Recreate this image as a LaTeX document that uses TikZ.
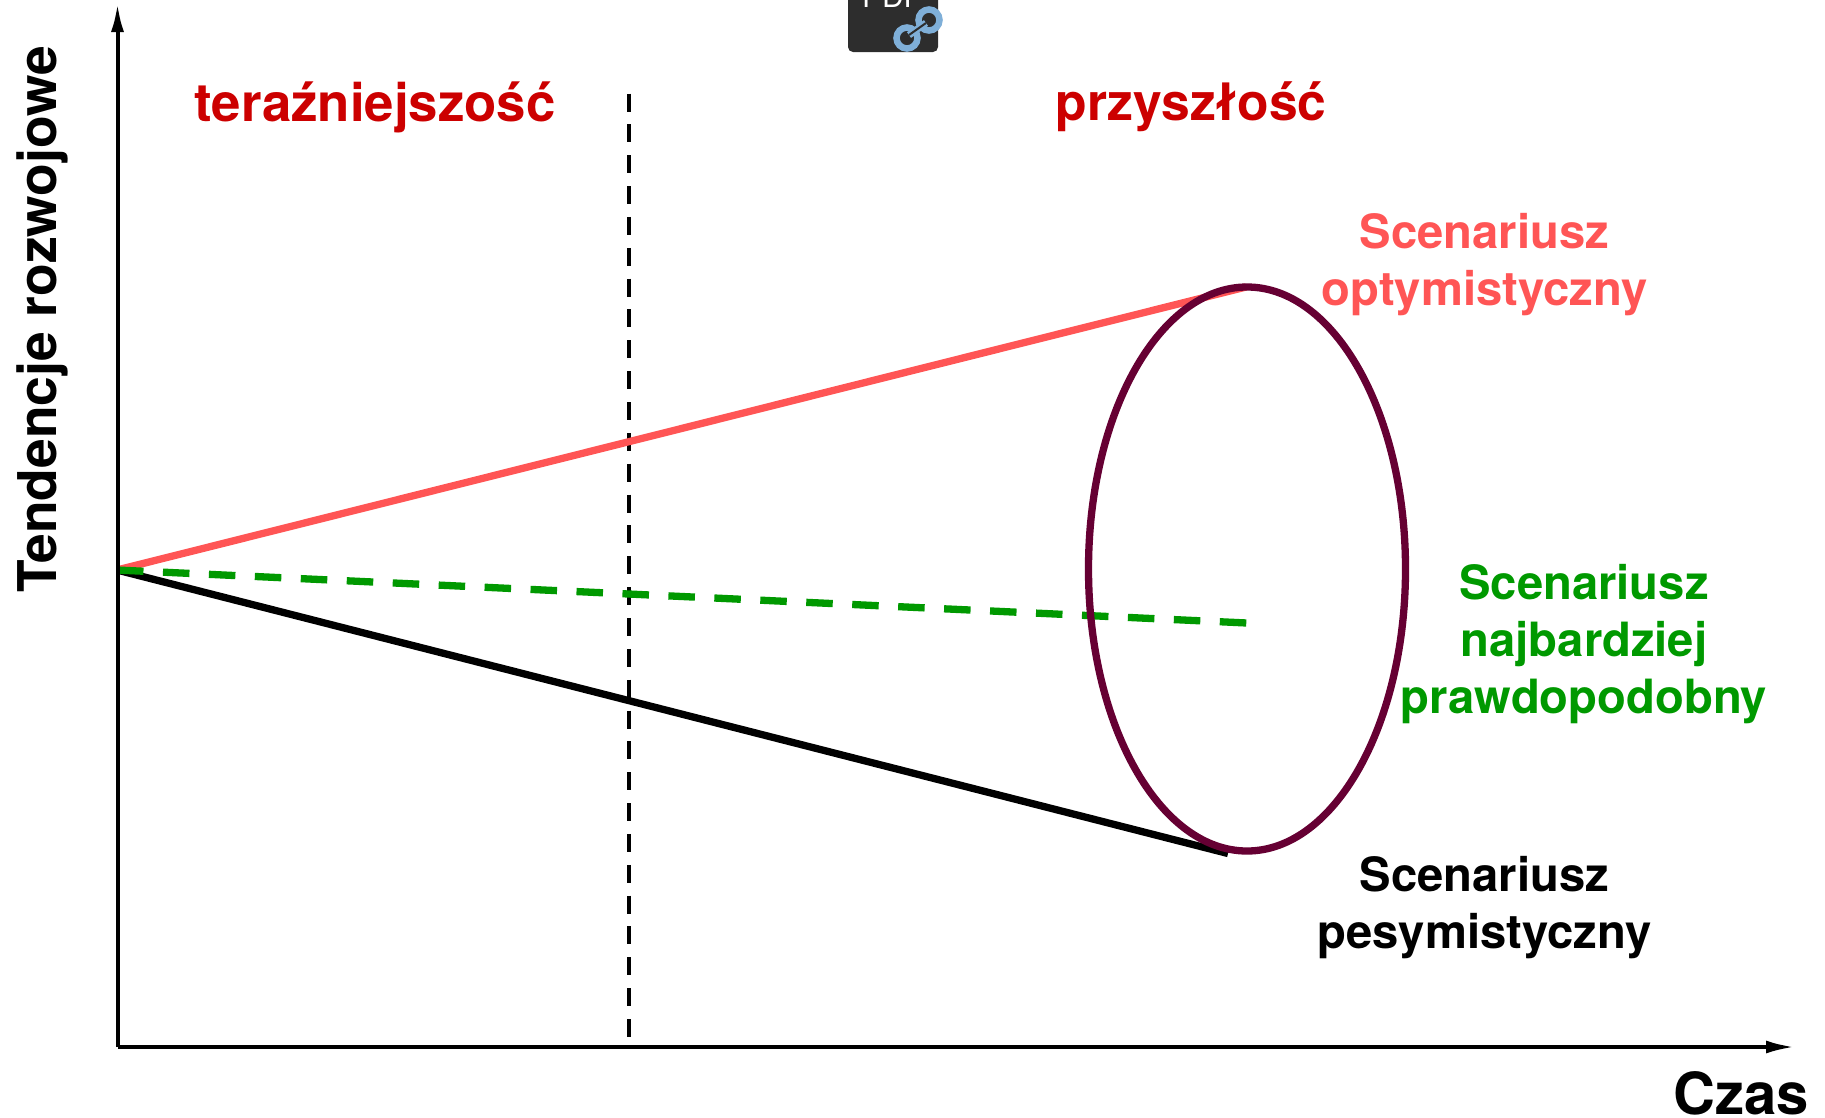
\documentclass[tikz,border=0pt]{standalone}
\usepackage{fontspec}
\setmainfont{TeX Gyre Heros}
\usetikzlibrary{arrows.meta,shapes.geometric}
\definecolor{redtxt}{HTML}{CC0000}
\definecolor{optim}{HTML}{FF5555}
\definecolor{likely}{HTML}{009900}
\definecolor{ell}{HTML}{660033}
\definecolor{icon}{HTML}{2D2D2D}
\definecolor{linkc}{HTML}{7FAFD8}
\tikzset{
  axis/.style={line width=4pt,-{Latex[length=29pt,width=13pt]}},
  scen/.style={line width=7.3pt},
  lab/.style={font=\bfseries\fontsize{47.2}{57}\selectfont,align=center,inner sep=0pt},
  era/.style={font=\bfseries\fontsize{52}{60}\selectfont,text=redtxt,inner sep=0pt},
  axlab/.style={font=\bfseries\fontsize{53.4}{60}\selectfont,inner sep=0pt},
}
\begin{document}
\begin{tikzpicture}[x=1pt,y=-1pt]
\useasboundingbox (0,0) rectangle (1825,1117);
\clip (0,0) rectangle (1825,1117);
% PDF icon
\fill[icon,rounded corners=5pt] (848,-20) rectangle (938,52);
\node[font=\fontsize{30}{30}\selectfont,text=white,inner sep=0pt] (pdf) at (892,-3) {PDF};
\draw[linkc,line width=6.5pt] (907,38) circle (10.5pt) (929,20) circle (10.5pt);
\draw[linkc,line width=7pt] (909,35) -- (926,23);
\draw[icon,line width=2pt] (909,35) -- (926,23);
% guides and axes
\coordinate (O) at (117.5,1047);
\coordinate (Ytop) at (117.5,3);
\coordinate (Xend) at (1795,1047);
\coordinate (S) at (117,570);
\coordinate (A) at (1246,287);
\coordinate (B) at (1228,853.5);
\coordinate (C) at (1247,623);
\coordinate (D1) at (629,93.5);
\coordinate (D2) at (629,1037);
\draw[line width=4.7pt,dash pattern=on 18pt off 12.85pt] (D1) -- (D2);
\draw[scen,optim] (S) -- (A);
\draw[scen,black] (S) -- (B);
\draw[scen,likely,dash pattern=on 26.5pt off 19.5pt] (S) -- (C);
\node[draw=ell,line width=7.3pt,ellipse,minimum width=317pt,minimum height=564pt,inner sep=0pt] (E) at (1247,569) {};
\draw[axis] (O) -- (Ytop);
\draw[axis] (O) -- (Xend);
% labels
\node[era,font=\bfseries\fontsize{52.8}{60}\selectfont] (t1) at (375,107) {teraźniejszość};
\node[era,font=\bfseries\fontsize{51.6}{60}\selectfont] (t2) at (1191,107) {przyszłość};
\node[lab,text=optim] (l1) at (1484.5,265) {Scenariusz\\optymistyczny};
\node[lab,text=likely] (l2) at (1584,644) {Scenariusz\\najbardziej\\prawdopodobny};
\node[lab,text=black] (l3) at (1484.5,908) {Scenariusz\\pesymistyczny};
\node[axlab,rotate=90] (yl) at (42,319) {Tendencje rozwojowe};
\node[axlab,font=\bfseries\fontsize{58}{60}\selectfont] (xl) at (1741,1093) {Czas};
\end{tikzpicture}
\end{document}
